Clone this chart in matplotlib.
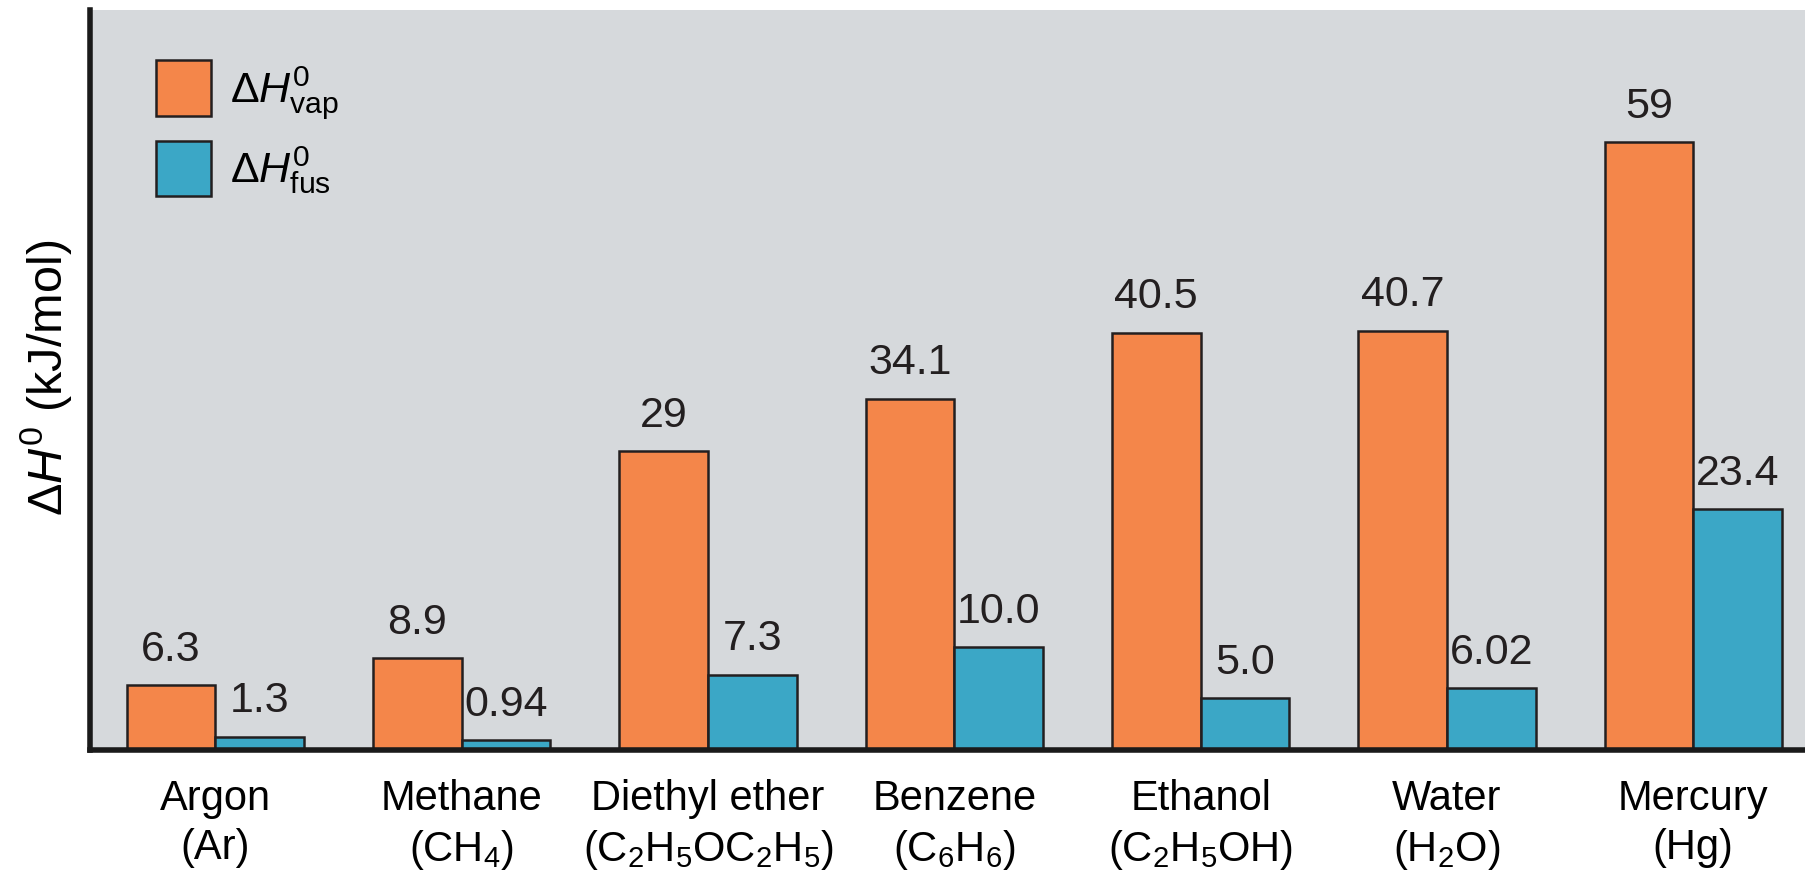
#!/usr/bin/env python3
import matplotlib
matplotlib.use('Agg')
import matplotlib.pyplot as plt
import numpy as np

# Enthalpies of vaporization / fusion, kJ/mol
substances = ['Argon\n(Ar)', 'Methane\n(CH$_4$)', 'Diethyl ether\n(C$_2$H$_5$OC$_2$H$_5$)',
              'Benzene\n(C$_6$H$_6$)', 'Ethanol\n(C$_2$H$_5$OH)', 'Water\n(H$_2$O)',
              'Mercury\n(Hg)']
h_vap = [6.3, 8.9, 29, 34.1, 40.5, 40.7, 59]
h_fus = [1.3, 0.94, 7.3, 10.0, 5.0, 6.02, 23.4]
vap_labels = ['6.3', '8.9', '29', '34.1', '40.5', '40.7', '59']
fus_labels = ['1.3', '0.94', '7.3', '10.0', '5.0', '6.02', '23.4']

plt.rcParams['font.family'] = ['Liberation Sans', 'DejaVu Sans']
plt.rcParams['mathtext.fontset'] = 'custom'
plt.rcParams['mathtext.rm'] = 'Liberation Sans'
plt.rcParams['mathtext.it'] = 'Liberation Sans:italic'
plt.rcParams['mathtext.bf'] = 'Liberation Sans:bold'

orange = '#f4864a'
blue = '#3ba7c6'
edge = '#231f20'

fig = plt.figure(figsize=(18.06, 8.76), dpi=100)
ax = fig.add_axes([90 / 1806, 126 / 876, 1716 / 1806, 740 / 876])
ax.set_facecolor('#d6d9dc')

x = np.arange(len(substances))
w = 0.36
b1 = ax.bar(x - w / 2, h_vap, w, color=orange, edgecolor=edge, linewidth=1.8,
            label=r'$\Delta H^0_{\mathrm{vap}}$')
b2 = ax.bar(x + w / 2, h_fus, w, color=blue, edgecolor=edge, linewidth=1.8,
            label=r'$\Delta H^0_{\mathrm{fus}}$')

for bars, labels in ((b1, vap_labels), (b2, fus_labels)):
    for rect, lab in zip(bars, labels):
        ax.annotate(lab, (rect.get_x() + rect.get_width() / 2, rect.get_height()),
                    xytext=(0, 11), textcoords='offset points',
                    ha='center', va='bottom', fontsize=31, color='#231f20')

ax.set_xlim(-0.509, 6.458)
ax.set_ylim(0, 71.8)
ax.set_xticks(x)
ax.set_xticklabels(substances, fontsize=30, linespacing=1.28)
ax.tick_params(axis='x', length=0, pad=21)
ax.set_yticks([])
for s in ('top', 'right'):
    ax.spines[s].set_visible(False)
for s in ('left', 'bottom'):
    ax.spines[s].set_linewidth(4)
    ax.spines[s].set_color('#1a1a1a')

fig.text(46 / 1806, 1 - 378 / 876, r'$\Delta H^0$ (kJ/mol)', rotation=90,
         ha='center', va='center', fontsize=35)

ax.legend(loc='upper left', bbox_to_anchor=(0.0385, 0.932), frameon=False,
          fontsize=31, handlelength=1.284, handleheight=1.6, handletextpad=0.43,
          labelspacing=0.45, borderpad=0, borderaxespad=0)

fig.savefig('out.png', dpi=100)
